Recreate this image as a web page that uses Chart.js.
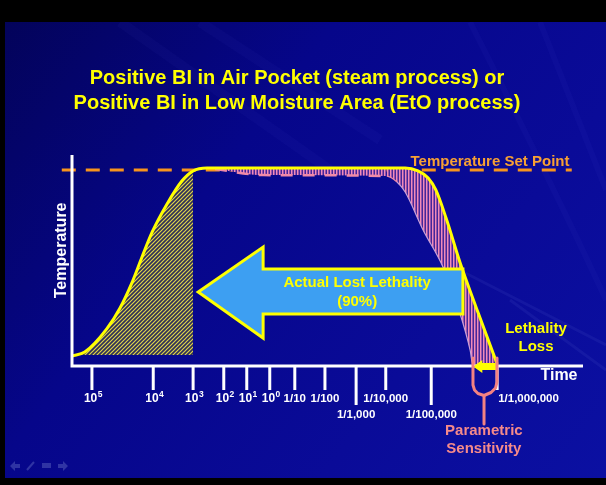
<!DOCTYPE html>
<html>
<head>
<meta charset="utf-8">
<script src="https://cdn.jsdelivr.net/npm/chart.js@4.4.1/dist/chart.umd.min.js"></script>
<style>
  html, body { margin: 0; padding: 0; background: #000; }
  #chart { display: block; }
</style>
</head>
<body>
<canvas id="chart" width="606" height="485"></canvas>
<script>
// Temperature curve: time (0-100 units along the axis) vs temperature (% of set point)
const tempX = [0, 2.5, 6.8, 9.4, 11.7, 13.7, 15.7, 18.6, 21.5, 23.7, 26.4, 44.6, 65.2, 67.7, 69.7, 71.2, 73.2, 75.9, 79.5, 83.2];
const tempY = [5.1, 7.1, 18.9, 29.6, 42.3, 55.6, 68.4, 82.7, 94.4, 99.5, 101, 101, 101, 99.5, 95.9, 89.8, 75.5, 53.1, 27.0, 1.0];
const riseCount = 10;   // first points = come-up (hatched)
const riseBase = 5.6;

// Lower edge of the lost lethality band
const lossX = [28.0, 37.4, 61.6, 63.6, 65.2, 68.7, 72.6, 75.9, 77.9, 78.5, 83.2];
const lossY = [100.5, 97.4, 96.9, 93.9, 88.8, 69.4, 50.5, 27.0, 8.2, 0, 0];

const setPoint = 100;
const setPointX = [-2, 97.8];

// Time axis
const tickPos = [3.9, 15.9, 23.7, 29.7, 34.2, 38.7, 43.6, 49.5, 55.6, 61.4, 70.3, 83.2];
const tickLabels = ['10^5', '10^4', '10^3', '10^2', '10^1', '10^0', '1/10', '1/100', '1/1,000', '1/10,000', '1/100,000', '1/1,000,000'];
const tickRow = [0, 0, 0, 0, 0, 0, 0, 0, 1, 0, 1, 0];

// Annotation shapes (data units)
const arrowX = [24.7, 37.4, 37.4, 76.5, 76.5, 37.4, 37.4];
const arrowY = [37.8, 60.7, 49.5, 49.5, 26.5, 26.5, 14.3];
const smallArrowX = [78.5, 80.3, 80.3, 83.2, 83.2, 80.3, 80.3];
const smallArrowY = [-0.3, 3.0, 1.5, 1.5, -2.1, -2.1, -3.6];
const braceLeftX = [78.47, 78.47, 78.77, 79.45, 80.63, 80.63];
const braceLeftY = [4.08, -9.69, -12.24, -14.03, -15.05, -29.59];
const braceRightX = [83.17, 83.17, 82.88, 82.0, 80.63];
const braceRightY = [4.08, -8.16, -11.22, -13.52, -15.05];

const FONT = '"Liberation Sans", Arial, sans-serif';

function hatchPattern() {
  const c = document.createElement('canvas');
  c.width = 4; c.height = 4;
  const g = c.getContext('2d');
  g.fillStyle = '#2e2e58';
  g.fillRect(0, 0, 4, 4);
  g.strokeStyle = '#e0d64a';
  g.lineWidth = 1.2;
  g.beginPath();
  g.moveTo(0, 4); g.lineTo(4, 0);
  g.moveTo(-1, 1); g.lineTo(1, -1);
  g.moveTo(3, 5); g.lineTo(5, 3);
  g.stroke();
  return g.createPattern(c, 'repeat');
}

function stripePattern() {
  const c = document.createElement('canvas');
  c.width = 3; c.height = 1;
  const g = c.getContext('2d');
  g.fillStyle = '#f08cb8'; g.fillRect(0, 0, 1, 1);
  g.fillStyle = '#9a52aa'; g.fillRect(1, 0, 1, 1);
  g.fillStyle = '#44289a'; g.fillRect(2, 0, 1, 1);
  return g.createPattern(c, 'repeat');
}

const pts = (xs, ys) => xs.map((x, i) => ({ x: x, y: ys[i] }));

const slide = {
  id: 'slide',
  beforeDraw(chart) {
    const ctx = chart.ctx;
    ctx.save();
    ctx.fillStyle = '#000';
    ctx.fillRect(0, 0, 606, 485);
    const g = ctx.createLinearGradient(5, 22, 606, 478);
    g.addColorStop(0, '#03035a');
    g.addColorStop(0.35, '#06068a');
    g.addColorStop(0.7, '#0a0b98');
    g.addColorStop(1, '#0b10a2');
    ctx.fillStyle = g;
    ctx.fillRect(5, 22, 601, 456);
    ctx.beginPath();
    ctx.rect(5, 22, 601, 456);
    ctx.clip();
    // soft streaks
    ctx.strokeStyle = 'rgba(120,140,255,0.04)';
    ctx.lineWidth = 10;
    ctx.beginPath(); ctx.moveTo(120, 22); ctx.lineTo(330, 170); ctx.stroke();
    ctx.beginPath(); ctx.moveTo(200, 22); ctx.lineTo(380, 140); ctx.stroke();
    ctx.lineWidth = 6;
    ctx.beginPath(); ctx.moveTo(470, 22); ctx.quadraticCurveTo(560, 200, 606, 300); ctx.stroke();
    ctx.beginPath(); ctx.moveTo(540, 22); ctx.quadraticCurveTo(590, 150, 606, 190); ctx.stroke();
    ctx.lineWidth = 3;
    ctx.strokeStyle = 'rgba(150,170,255,0.07)';
    ctx.beginPath(); ctx.moveTo(510, 300); ctx.lineTo(606, 370); ctx.stroke();
    ctx.beginPath(); ctx.moveTo(440, 260); ctx.lineTo(606, 345); ctx.stroke();
    // navigation icons
    ctx.fillStyle = 'rgba(110,120,200,0.4)';
    ctx.strokeStyle = 'rgba(110,120,200,0.4)';
    ctx.beginPath(); ctx.moveTo(10, 466); ctx.lineTo(15, 461); ctx.lineTo(15, 464); ctx.lineTo(20, 464); ctx.lineTo(20, 468); ctx.lineTo(15, 468); ctx.lineTo(15, 471); ctx.closePath(); ctx.fill();
    ctx.lineWidth = 2;
    ctx.beginPath(); ctx.moveTo(27, 470); ctx.lineTo(34, 462); ctx.stroke();
    ctx.fillRect(42, 463, 9, 5);
    ctx.beginPath(); ctx.moveTo(68, 466); ctx.lineTo(63, 461); ctx.lineTo(63, 464); ctx.lineTo(58, 464); ctx.lineTo(58, 468); ctx.lineTo(63, 468); ctx.lineTo(63, 471); ctx.closePath(); ctx.fill();
    ctx.restore();
  },
  afterDatasetsDraw(chart) {
    const ctx = chart.ctx;
    const xs = chart.scales.x, ys = chart.scales.y;
    const area = chart.chartArea;
    const X = v => xs.getPixelForValue(v);
    const Y = v => ys.getPixelForValue(v);
    ctx.save();

    // axes
    ctx.strokeStyle = '#ffffff';
    ctx.lineWidth = 3;
    ctx.beginPath();
    ctx.moveTo(area.left, area.top);
    ctx.lineTo(area.left, area.bottom + 1.5);
    ctx.moveTo(area.left - 1.5, area.bottom);
    ctx.lineTo(area.right, area.bottom);
    ctx.stroke();

    // ticks + labels
    ctx.fillStyle = '#ffffff';
    ctx.textBaseline = 'middle';
    tickPos.forEach((p, i) => {
      const px = X(p);
      const len = tickRow[i] ? 39 : 24;
      ctx.beginPath();
      ctx.moveTo(px, area.bottom);
      ctx.lineTo(px, area.bottom + len);
      ctx.stroke();
      const ly = area.bottom + (tickRow[i] ? 49 : 33);
      const lab = tickLabels[i];
      if (lab.indexOf('^') > 0) {
        const [base, sup] = lab.split('^');
        ctx.font = 'bold 12px ' + FONT;
        const wb = ctx.measureText(base).width;
        ctx.font = 'bold 8.5px ' + FONT;
        const ws = ctx.measureText(sup).width;
        const x0 = px - (wb + ws) / 2 + 1;
        ctx.textAlign = 'left';
        ctx.font = 'bold 12px ' + FONT;
        ctx.fillText(base, x0, ly);
        ctx.font = 'bold 8.5px ' + FONT;
        ctx.fillText(sup, x0 + wb + 0.5, ly - 4);
      } else {
        ctx.font = 'bold 11.5px ' + FONT;
        if (i === tickPos.length - 1) {
          ctx.textAlign = 'left';
          ctx.fillText(lab, px + 1, ly);
        } else {
          ctx.textAlign = 'center';
          ctx.fillText(lab, px, ly);
        }
      }
    });

    // big arrow
    ctx.beginPath();
    arrowX.forEach((x, i) => i ? ctx.lineTo(X(x), Y(arrowY[i])) : ctx.moveTo(X(x), Y(arrowY[i])));
    ctx.closePath();
    ctx.fillStyle = '#3d9ff2';
    ctx.fill();
    ctx.strokeStyle = '#ffff00';
    ctx.lineWidth = 3;
    ctx.lineJoin = 'miter';
    ctx.stroke();

    // small arrow on the time axis
    ctx.beginPath();
    smallArrowX.forEach((x, i) => i ? ctx.lineTo(X(x), Y(smallArrowY[i])) : ctx.moveTo(X(x), Y(smallArrowY[i])));
    ctx.closePath();
    ctx.fillStyle = '#ffff00';
    ctx.fill();

    // parametric sensitivity brace
    ctx.strokeStyle = '#f38282';
    ctx.lineWidth = 3;
    ctx.lineJoin = 'round';
    ctx.lineCap = 'round';
    [[braceLeftX, braceLeftY], [braceRightX, braceRightY]].forEach(([bx, by]) => {
      ctx.beginPath();
      bx.forEach((x, i) => i ? ctx.lineTo(X(x), Y(by[i])) : ctx.moveTo(X(x), Y(by[i])));
      ctx.stroke();
    });

    // texts
    ctx.textAlign = 'center';
    ctx.textBaseline = 'middle';
    ctx.fillStyle = '#ffff00';
    ctx.font = 'bold 20px ' + FONT;
    ctx.fillText('Positive BI in Air Pocket (steam process) or', 297, 78);
    ctx.fillText('Positive BI in Low Moisture Area (EtO process)', 297, 103);

    ctx.font = 'bold 15px ' + FONT;
    ctx.fillText('Actual Lost Lethality', X(55.8), Y(42.3));
    ctx.fillText('(90%)', X(55.8), Y(32.7));
    ctx.fillText('Lethality', X(90.8), Y(18.9));
    ctx.fillText('Loss', X(90.8), Y(9.7));

    ctx.fillStyle = '#f7a033';
    ctx.fillText('Temperature Set Point', X(81.8), Y(104.1));

    ctx.fillStyle = '#f58a8a';
    ctx.fillText('Parametric', X(80.6), Y(-33.2));
    ctx.fillText('Sensitivity', X(80.6), Y(-42.3));

    ctx.fillStyle = '#ffffff';
    ctx.font = 'bold 16px ' + FONT;
    ctx.fillText('Time', X(95.3), Y(-5.1));
    ctx.save();
    ctx.translate(area.left - 10, Y(59));
    ctx.rotate(-Math.PI / 2);
    ctx.fillText('Temperature', 0, 0);
    ctx.restore();

    ctx.restore();
  }
};

new Chart(document.getElementById('chart'), {
  type: 'line',
  data: {
    datasets: [
      {
        data: pts(tempX, tempY),
        borderColor: '#ffff00',
        borderWidth: 3,
        cubicInterpolationMode: 'monotone',
        fill: false,
        order: 0
      },
      {
        data: pts(lossX, lossY),
        borderColor: '#c8a0d8',
        borderWidth: 1.2,
        cubicInterpolationMode: 'monotone',
        fill: 0,
        backgroundColor: stripePattern(),
        segment: {
          borderDash: c => c.p1.parsed.x <= 61.6 ? [12, 10] : undefined,
          borderColor: c => c.p1.parsed.x <= 63.6 ? '#f08aa8' : undefined,
          borderWidth: c => c.p1.parsed.x <= 61.6 ? 2.5 : undefined
        },
        order: 2
      },
      {
        data: setPointX.map(x => ({ x: x, y: setPoint })),
        borderColor: '#f7941d',
        borderWidth: 3,
        borderDash: [14, 10],
        fill: false,
        clip: false,
        order: 3
      },
      {
        data: pts(tempX.slice(0, riseCount), tempY.slice(0, riseCount)),
        borderWidth: 0,
        borderColor: 'rgba(0,0,0,0)',
        cubicInterpolationMode: 'monotone',
        fill: { value: riseBase },
        backgroundColor: hatchPattern(),
        order: 4
      }
    ]
  },
  options: {
    responsive: false,
    animation: false,
    layout: { padding: { left: 72, right: 23, top: 155, bottom: 119 } },
    elements: { point: { radius: 0 } },
    scales: {
      x: { type: 'linear', min: 0, max: 100, display: false },
      y: { min: 0, max: 107.65, display: false }
    },
    plugins: {
      legend: { display: false },
      tooltip: { enabled: false }
    }
  },
  plugins: [slide]
});
</script>
</body>
</html>
